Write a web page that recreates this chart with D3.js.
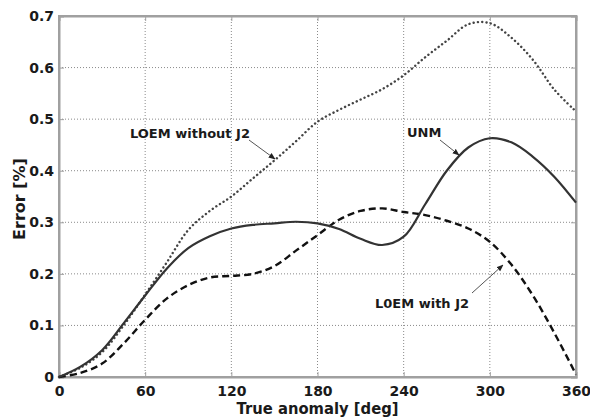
<!DOCTYPE html>
<html><head><meta charset="utf-8">
<script src="https://cdn.jsdelivr.net/npm/d3@7"></script>
<style>body{margin:0;background:#fff}svg{display:block}text{font-family:"DejaVu Sans",sans-serif;font-weight:bold;fill:#1a1a1a}</style>
</head><body><svg id="c" width="590" height="419"></svg>
<script>
const anomaly = [0,15,30,45,60,75,90,105,120,135,150,165,180,195,210,225,240,255,270,285,300,315,330,345,360];
const unm     = [0,0.02,0.052,0.104,0.158,0.21,0.25,0.273,0.288,0.295,0.298,0.301,0.298,0.287,0.268,0.256,0.272,0.335,0.4,0.445,0.463,0.455,0.427,0.388,0.338];
const noJ2    = [0,0.018,0.048,0.1,0.16,0.222,0.285,0.322,0.35,0.385,0.42,0.457,0.495,0.518,0.538,0.558,0.585,0.62,0.652,0.684,0.686,0.658,0.615,0.557,0.515];
const withJ2  = [0,0.008,0.026,0.065,0.111,0.152,0.178,0.193,0.196,0.2,0.215,0.245,0.275,0.305,0.322,0.327,0.32,0.314,0.303,0.288,0.262,0.218,0.158,0.085,0.005];
const xTicks = [0,60,120,180,240,300,360];
const yTicks = [0,0.1,0.2,0.3,0.4,0.5,0.6,0.7];
const xTitle = "True anomaly [deg]";
const yTitle = "Error [%]";

const svg = d3.select("#c");
const L=59,R=576,T=16,B=377;
const x = d3.scaleLinear().domain([0,360]).range([L,R]);
const y = d3.scaleLinear().domain([0,0.7]).range([B,T]);

// grid
const g = svg.append("g");
g.selectAll(".vg").data(xTicks.slice(1,-1)).enter().append("line")
 .attr("x1",d=>x(d)).attr("x2",d=>x(d)).attr("y1",T).attr("y2",B)
 .attr("stroke","#8a8a8a").attr("stroke-width",1).attr("stroke-dasharray","1,2");
g.selectAll(".hg").data(yTicks.slice(1,-1)).enter().append("line")
 .attr("y1",d=>y(d)).attr("y2",d=>y(d)).attr("x1",L).attr("x2",R)
 .attr("stroke","#8a8a8a").attr("stroke-width",1).attr("stroke-dasharray","1,2");

// axes
svg.append("g").attr("transform",`translate(0,${B})`)
 .call(d3.axisBottom(x).tickValues(xTicks).tickSize(-5).tickPadding(9).tickFormat(d3.format("d")));
svg.append("g").attr("transform",`translate(${L},0)`)
 .call(d3.axisLeft(y).tickValues(yTicks).tickSize(-5).tickPadding(5).tickFormat(d=>d===0?"0":d3.format(".1f")(d)));
svg.append("g").attr("transform",`translate(0,${T})`)
 .call(d3.axisTop(x).tickValues(xTicks).tickSize(-5).tickFormat(""));
svg.append("g").attr("transform",`translate(${R},0)`)
 .call(d3.axisRight(y).tickValues(yTicks).tickSize(-5).tickFormat(""));
svg.selectAll(".domain").attr("stroke","#a0a0a0").attr("stroke-width",2);
svg.selectAll(".tick line").attr("stroke","#a0a0a0");
svg.selectAll(".tick text").style("font-size","14px").attr("fill","#1a1a1a");
svg.append("rect").attr("x",L).attr("y",T).attr("width",R-L).attr("height",B-T)
 .attr("fill","none").attr("stroke","#a0a0a0").attr("stroke-width",2);

// lines
const line = vals => d3.line().x((d,i)=>x(anomaly[i])).y(d=>y(d)).curve(d3.curveCatmullRom.alpha(0.5))(vals);
svg.append("path").attr("d",line(noJ2)).attr("fill","none").attr("stroke","#444")
 .attr("stroke-width",2.4).attr("stroke-dasharray","0.1,4.2").attr("stroke-linecap","round");
svg.append("path").attr("d",line(withJ2)).attr("fill","none").attr("stroke","#111")
 .attr("stroke-width",2.4).attr("stroke-dasharray","7,4");
svg.append("path").attr("d",line(unm)).attr("fill","none").attr("stroke","#333")
 .attr("stroke-width",2.2);

// annotations
const ann = [
 {t:"LOEM without J2", tx:130, ty:138, ax1:249, ay1:140, ax2:275, ay2:159},
 {t:"UNM", tx:407, ty:137, ax1:440, ay1:140, ax2:459, ay2:155},
 {t:"L0EM with J2", tx:375, ty:308, ax1:472, ay1:293, ax2:503, ay2:265}
];
svg.append("defs").append("marker").attr("id","ah").attr("viewBox","0 0 10 10")
 .attr("refX",9).attr("refY",5).attr("markerWidth",7).attr("markerHeight",7).attr("orient","auto")
 .append("path").attr("d","M0,1 L10,5 L0,9 Z").attr("fill","#222");
ann.forEach(a=>{
 svg.append("text").attr("x",a.tx).attr("y",a.ty).style("font-size","13px").text(a.t);
 svg.append("line").attr("x1",a.ax1).attr("y1",a.ay1).attr("x2",a.ax2).attr("y2",a.ay2)
  .attr("stroke","#555").attr("stroke-width",1).attr("marker-end","url(#ah)");
});

// titles
svg.append("text").attr("x",(L+R)/2).attr("y",414).attr("text-anchor","middle").style("font-size","16px")
 .attr("textLength",162).attr("lengthAdjust","spacingAndGlyphs").text(xTitle);
svg.append("text").attr("transform",`translate(25,199) rotate(-90)`).attr("text-anchor","middle").style("font-size","16px").text(yTitle);
</script></body></html>
